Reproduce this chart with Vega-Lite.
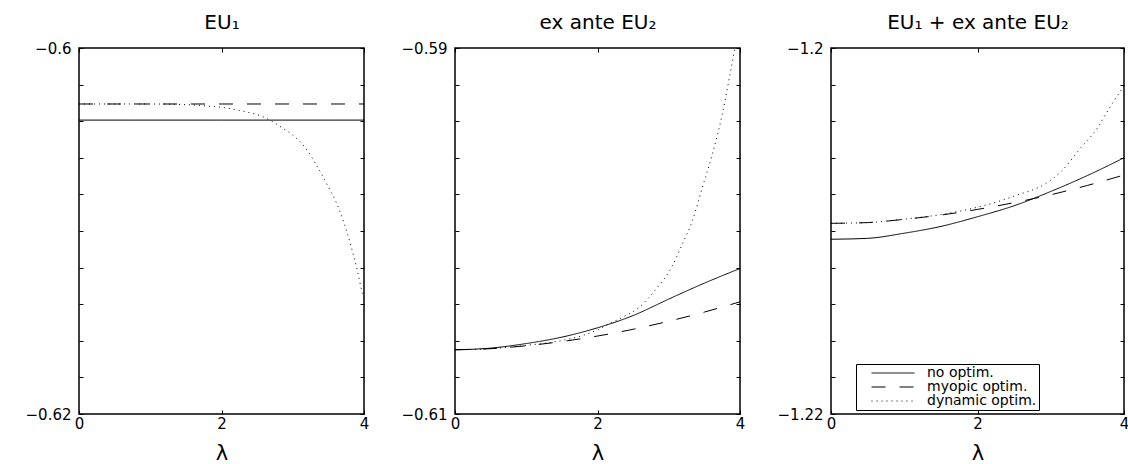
{
  "$schema": "https://vega.github.io/schema/vega-lite/v6.json",
  "autosize": {"type": "pad"},
  "padding": {"left": 24, "top": 11, "right": 0, "bottom": 0},
  "background": "white",
  "spacing": 91,
  "bounds": "flush",
  "config": {
    "font": "DejaVu Sans",
    "view": {"stroke": "black", "strokeWidth": 1.5},
    "axis": {
      "grid": false,
      "domain": false,
      "tickColor": "black",
      "tickSize": -4,
      "tickWidth": 1,
      "labelFont": "DejaVu Sans",
      "labelFontSize": 15,
      "labelColor": "black",
      "labelFlush": false,
      "labelOverlap": false,
      "titleFont": "DejaVu Sans",
      "titleColor": "black",
      "titleFontWeight": "normal"
    }
  },
  "datasets": {
    "eu1": [
      {"lambda": 0, "value": -0.60394, "series": "no optim."},
      {"lambda": 2, "value": -0.60394, "series": "no optim."},
      {"lambda": 4, "value": -0.60394, "series": "no optim."},
      {"lambda": 0, "value": -0.60306, "series": "myopic optim."},
      {"lambda": 2, "value": -0.60306, "series": "myopic optim."},
      {"lambda": 4, "value": -0.60306, "series": "myopic optim."},
      {"lambda": 0, "value": -0.60306, "series": "dynamic optim."},
      {"lambda": 1, "value": -0.60306, "series": "dynamic optim."},
      {"lambda": 1.47, "value": -0.60309, "series": "dynamic optim."},
      {"lambda": 1.77, "value": -0.60316, "series": "dynamic optim."},
      {"lambda": 2.05, "value": -0.60327, "series": "dynamic optim."},
      {"lambda": 2.32, "value": -0.60347, "series": "dynamic optim."},
      {"lambda": 2.57, "value": -0.60374, "series": "dynamic optim."},
      {"lambda": 2.68, "value": -0.60394, "series": "dynamic optim."},
      {"lambda": 2.85, "value": -0.60436, "series": "dynamic optim."},
      {"lambda": 3.0, "value": -0.60476, "series": "dynamic optim."},
      {"lambda": 3.18, "value": -0.60547, "series": "dynamic optim."},
      {"lambda": 3.34, "value": -0.60645, "series": "dynamic optim."},
      {"lambda": 3.48, "value": -0.60745, "series": "dynamic optim."},
      {"lambda": 3.61, "value": -0.60843, "series": "dynamic optim."},
      {"lambda": 3.71, "value": -0.60945, "series": "dynamic optim."},
      {"lambda": 3.81, "value": -0.61072, "series": "dynamic optim."},
      {"lambda": 3.91, "value": -0.61222, "series": "dynamic optim."},
      {"lambda": 3.98, "value": -0.61345, "series": "dynamic optim."},
      {"lambda": 4, "value": -0.6137, "series": "dynamic optim."}
    ],
    "eu2": [
      {"lambda": 0, "value": -0.60649, "series": "no optim."},
      {"lambda": 0.5, "value": -0.6064, "series": "no optim."},
      {"lambda": 1, "value": -0.60615, "series": "no optim."},
      {"lambda": 1.5, "value": -0.6058, "series": "no optim."},
      {"lambda": 2, "value": -0.60529, "series": "no optim."},
      {"lambda": 2.5, "value": -0.60462, "series": "no optim."},
      {"lambda": 3, "value": -0.60372, "series": "no optim."},
      {"lambda": 3.5, "value": -0.60285, "series": "no optim."},
      {"lambda": 4, "value": -0.60205, "series": "no optim."},
      {"lambda": 0, "value": -0.60649, "series": "myopic optim."},
      {"lambda": 0.5, "value": -0.60643, "series": "myopic optim."},
      {"lambda": 1, "value": -0.60627, "series": "myopic optim."},
      {"lambda": 1.5, "value": -0.60604, "series": "myopic optim."},
      {"lambda": 2, "value": -0.60574, "series": "myopic optim."},
      {"lambda": 2.5, "value": -0.60537, "series": "myopic optim."},
      {"lambda": 3, "value": -0.60493, "series": "myopic optim."},
      {"lambda": 3.5, "value": -0.60443, "series": "myopic optim."},
      {"lambda": 4, "value": -0.60387, "series": "myopic optim."},
      {"lambda": 0, "value": -0.60649, "series": "dynamic optim."},
      {"lambda": 0.5, "value": -0.60643, "series": "dynamic optim."},
      {"lambda": 1, "value": -0.60625, "series": "dynamic optim."},
      {"lambda": 1.5, "value": -0.60598, "series": "dynamic optim."},
      {"lambda": 1.8, "value": -0.6057, "series": "dynamic optim."},
      {"lambda": 2.0, "value": -0.6054, "series": "dynamic optim."},
      {"lambda": 2.2, "value": -0.605, "series": "dynamic optim."},
      {"lambda": 2.35, "value": -0.60472, "series": "dynamic optim."},
      {"lambda": 2.58, "value": -0.60418, "series": "dynamic optim."},
      {"lambda": 2.82, "value": -0.60318, "series": "dynamic optim."},
      {"lambda": 3.05, "value": -0.60191, "series": "dynamic optim."},
      {"lambda": 3.19, "value": -0.60072, "series": "dynamic optim."},
      {"lambda": 3.33, "value": -0.59945, "series": "dynamic optim."},
      {"lambda": 3.47, "value": -0.59764, "series": "dynamic optim."},
      {"lambda": 3.61, "value": -0.59582, "series": "dynamic optim."},
      {"lambda": 3.75, "value": -0.59364, "series": "dynamic optim."},
      {"lambda": 3.85, "value": -0.59164, "series": "dynamic optim."},
      {"lambda": 3.92, "value": -0.59018, "series": "dynamic optim."},
      {"lambda": 4, "value": -0.5885, "series": "dynamic optim."}
    ],
    "sum": [
      {"lambda": 0, "value": -1.21045, "series": "no optim."},
      {"lambda": 0.5, "value": -1.2104, "series": "no optim."},
      {"lambda": 1, "value": -1.21012, "series": "no optim."},
      {"lambda": 1.5, "value": -1.20975, "series": "no optim."},
      {"lambda": 2, "value": -1.20922, "series": "no optim."},
      {"lambda": 2.5, "value": -1.20862, "series": "no optim."},
      {"lambda": 3, "value": -1.20784, "series": "no optim."},
      {"lambda": 3.5, "value": -1.20697, "series": "no optim."},
      {"lambda": 4, "value": -1.206, "series": "no optim."},
      {"lambda": 0, "value": -1.20958, "series": "myopic optim."},
      {"lambda": 0.5, "value": -1.20954, "series": "myopic optim."},
      {"lambda": 1, "value": -1.20936, "series": "myopic optim."},
      {"lambda": 1.5, "value": -1.20913, "series": "myopic optim."},
      {"lambda": 2, "value": -1.20882, "series": "myopic optim."},
      {"lambda": 2.5, "value": -1.20845, "series": "myopic optim."},
      {"lambda": 3, "value": -1.20802, "series": "myopic optim."},
      {"lambda": 3.5, "value": -1.20751, "series": "myopic optim."},
      {"lambda": 4, "value": -1.20694, "series": "myopic optim."},
      {"lambda": 0, "value": -1.20958, "series": "dynamic optim."},
      {"lambda": 0.5, "value": -1.20954, "series": "dynamic optim."},
      {"lambda": 1, "value": -1.20935, "series": "dynamic optim."},
      {"lambda": 1.5, "value": -1.2091, "series": "dynamic optim."},
      {"lambda": 2, "value": -1.2087, "series": "dynamic optim."},
      {"lambda": 2.25, "value": -1.20843, "series": "dynamic optim."},
      {"lambda": 2.5, "value": -1.20809, "series": "dynamic optim."},
      {"lambda": 2.95, "value": -1.20736, "series": "dynamic optim."},
      {"lambda": 3.15, "value": -1.20672, "series": "dynamic optim."},
      {"lambda": 3.32, "value": -1.20591, "series": "dynamic optim."},
      {"lambda": 3.41, "value": -1.20545, "series": "dynamic optim."},
      {"lambda": 3.64, "value": -1.20436, "series": "dynamic optim."},
      {"lambda": 3.75, "value": -1.20362, "series": "dynamic optim."},
      {"lambda": 3.86, "value": -1.20291, "series": "dynamic optim."},
      {"lambda": 4, "value": -1.20209, "series": "dynamic optim."}
    ]
  },
  "resolve": {"scale": {"strokeDash": "independent"}, "legend": {"strokeDash": "independent"}},
  "hconcat": [
    {
      "width": 285, "height": 366,
      "data": {"name": "eu1"},
      "resolve": {"axis": {"x": "independent", "y": "independent"}},
      "layer": [
        {
          "mark": {"type": "line", "color": "black", "strokeWidth": 1, "clip": true, "interpolate": "monotone"},
          "encoding": {
            "x": {"field": "lambda", "type": "quantitative", "scale": {"domain": [0, 4], "nice": false, "zero": false},
                  "axis": {"orient": "bottom", "values": [0, 2, 4], "format": "d", "title": "λ", "titleFontSize": 21, "titlePadding": 11, "labelPadding": 6}},
            "y": {"field": "value", "type": "quantitative", "scale": {"domain": [-0.62, -0.6], "nice": false, "zero": false},
                  "axis": {"orient": "left", "title": null, "format": "~g", "labelPadding": 12,
                           "values": [-0.62, -0.618, -0.616, -0.614, -0.612, -0.61, -0.608, -0.606, -0.604, -0.602, -0.6],
                           "labelExpr": "datum.index == 0 || datum.index == 1 ? datum.label : ''"}},
            "strokeDash": {"field": "series", "type": "nominal",
                           "scale": {"domain": ["no optim.", "myopic optim.", "dynamic optim."], "range": [[1, 0], [14, 14], [1, 4]]},
                           "legend": null}
          }
        },
        {
          "mark": {"type": "point", "opacity": 0},
          "encoding": {
            "x": {"field": "lambda", "type": "quantitative", "scale": {"domain": [0, 4], "nice": false, "zero": false},
                  "axis": {"orient": "top", "values": [0, 2, 4], "labels": false, "title": "EU₁", "titleFontSize": 20, "titlePadding": 19, "titleBaseline": "alphabetic"}},
            "y": {"field": "value", "type": "quantitative", "scale": {"domain": [-0.62, -0.6], "nice": false, "zero": false},
                  "axis": {"orient": "right", "labels": false, "title": null,
                           "values": [-0.62, -0.618, -0.616, -0.614, -0.612, -0.61, -0.608, -0.606, -0.604, -0.602, -0.6]}}
          }
        }
      ]
    },
    {
      "width": 285, "height": 366,
      "data": {"name": "eu2"},
      "resolve": {"axis": {"x": "independent", "y": "independent"}},
      "layer": [
        {
          "mark": {"type": "line", "color": "black", "strokeWidth": 1, "clip": true, "interpolate": "monotone"},
          "encoding": {
            "x": {"field": "lambda", "type": "quantitative", "scale": {"domain": [0, 4], "nice": false, "zero": false},
                  "axis": {"orient": "bottom", "values": [0, 2, 4], "format": "d", "title": "λ", "titleFontSize": 21, "titlePadding": 11, "labelPadding": 6}},
            "y": {"field": "value", "type": "quantitative", "scale": {"domain": [-0.61, -0.59], "nice": false, "zero": false},
                  "axis": {"orient": "left", "title": null, "format": "~g", "labelPadding": 12,
                           "values": [-0.61, -0.608, -0.606, -0.604, -0.602, -0.6, -0.598, -0.596, -0.594, -0.592, -0.59],
                           "labelExpr": "datum.index == 0 || datum.index == 1 ? datum.label : ''"}},
            "strokeDash": {"field": "series", "type": "nominal",
                           "scale": {"domain": ["no optim.", "myopic optim.", "dynamic optim."], "range": [[1, 0], [14, 14], [1, 4]]},
                           "legend": null}
          }
        },
        {
          "mark": {"type": "point", "opacity": 0},
          "encoding": {
            "x": {"field": "lambda", "type": "quantitative", "scale": {"domain": [0, 4], "nice": false, "zero": false},
                  "axis": {"orient": "top", "values": [0, 2, 4], "labels": false, "title": "ex ante EU₂", "titleFontSize": 20, "titlePadding": 19, "titleBaseline": "alphabetic"}},
            "y": {"field": "value", "type": "quantitative", "scale": {"domain": [-0.61, -0.59], "nice": false, "zero": false},
                  "axis": {"orient": "right", "labels": false, "title": null,
                           "values": [-0.61, -0.608, -0.606, -0.604, -0.602, -0.6, -0.598, -0.596, -0.594, -0.592, -0.59]}}
          }
        }
      ]
    },
    {
      "width": 293, "height": 366,
      "data": {"name": "sum"},
      "resolve": {"axis": {"x": "independent", "y": "independent"}},
      "layer": [
        {
          "mark": {"type": "line", "color": "black", "strokeWidth": 1, "clip": true, "interpolate": "monotone"},
          "encoding": {
            "x": {"field": "lambda", "type": "quantitative", "scale": {"domain": [0, 4], "nice": false, "zero": false},
                  "axis": {"orient": "bottom", "values": [0, 2, 4], "format": "d", "title": "λ", "titleFontSize": 21, "titlePadding": 11, "labelPadding": 6}},
            "y": {"field": "value", "type": "quantitative", "scale": {"domain": [-1.22, -1.2], "nice": false, "zero": false},
                  "axis": {"orient": "left", "title": null, "format": "~g", "labelPadding": 12,
                           "values": [-1.22, -1.218, -1.216, -1.214, -1.212, -1.21, -1.208, -1.206, -1.204, -1.202, -1.2],
                           "labelExpr": "datum.index == 0 || datum.index == 1 ? datum.label : ''"}},
            "strokeDash": {"field": "series", "type": "nominal",
                           "scale": {"domain": ["no optim.", "myopic optim.", "dynamic optim."], "range": [[1, 0], [14, 14], [1, 4]]},
                           "legend": {"title": null, "orient": "none", "legendX": 25, "legendY": 316,
                                      "symbolType": "M-8.6,0H8.6", "symbolSize": 25, "symbolStrokeColor": "black", "symbolStrokeWidth": 1,
                                      "symbolOffset": 28, "labelOffset": 27, "labelFontSize": 14, "labelFont": "DejaVu Sans", "labelColor": "black",
                                      "rowPadding": -8, "padding": 2, "strokeColor": "black", "fillColor": "white"}}
          }
        },
        {
          "mark": {"type": "point", "opacity": 0},
          "encoding": {
            "x": {"field": "lambda", "type": "quantitative", "scale": {"domain": [0, 4], "nice": false, "zero": false},
                  "axis": {"orient": "top", "values": [0, 2, 4], "labels": false, "title": "EU₁ + ex ante EU₂", "titleFontSize": 20, "titlePadding": 19, "titleBaseline": "alphabetic"}},
            "y": {"field": "value", "type": "quantitative", "scale": {"domain": [-1.22, -1.2], "nice": false, "zero": false},
                  "axis": {"orient": "right", "labels": false, "title": null,
                           "values": [-1.22, -1.218, -1.216, -1.214, -1.212, -1.21, -1.208, -1.206, -1.204, -1.202, -1.2]}}
          }
        }
      ]
    }
  ]
}
